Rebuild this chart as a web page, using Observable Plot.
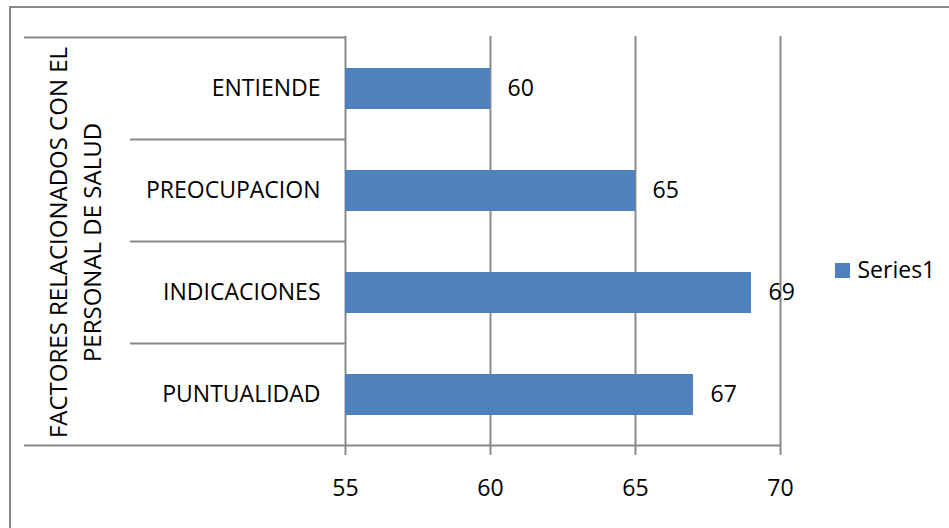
<!DOCTYPE html>
<html><head><meta charset="utf-8">
<script src="https://cdn.jsdelivr.net/npm/d3@7"></script>
<script src="https://cdn.jsdelivr.net/npm/@observablehq/plot@0.6"></script>
<style>body{margin:0;background:#fff}</style>
</head><body><div id="chart"></div>
<script>
const categories = ["ENTIENDE", "PREOCUPACION", "INDICACIONES", "PUNTUALIDAD"];
const values = [60, 65, 69, 67];
const xTicks = [55, 60, 65, 70];
const seriesName = "Series1";
const yTitle = "FACTORES RELACIONADOS CON EL\nPERSONAL DE SALUD";

const data = categories.map((c, i) => ({cat: c, value: values[i]}));
const GRID = "#898989", BAR = "#4F81BD", FONT = 23, TFONT = 24;
const PI = 0.6, PO = 0.3;

function decor(index, scales, vals, dim) {
  const g = d3.create("svg:g");
  const y = scales.y;
  const step = y(categories[1]) - y(categories[0]);
  const bounds = categories.map(c => y(c) - step * PI / 2);
  bounds.push(y(categories[categories.length - 1]) + step - step * PI / 2);
  const x0 = dim.marginLeft, x1 = dim.width - dim.marginRight;
  g.append("path").attr("d", `M10,${dim.height}V7H${dim.width}`)
    .attr("fill", "none").attr("stroke", GRID).attr("stroke-width", 2);
  bounds.forEach((b, i) => {
    const last = i === bounds.length - 1;
    const left = (i === 0 || last) ? 24 : 130;
    const right = last ? x1 : x0;
    g.append("line").attr("x1", left).attr("x2", right).attr("y1", b).attr("y2", b)
      .attr("stroke", GRID).attr("stroke-width", 2);
  });
  return g.node();
}

const chart = Plot.plot({
  width: 949, height: 528,
  marginLeft: 345, marginRight: 169, marginTop: 36, marginBottom: 82,
  style: {fontFamily: "'Open Sans', sans-serif", fontSize: FONT + "px", color: "black", background: "white", overflow: "visible"},
  x: {domain: [xTicks[0], xTicks[xTicks.length - 1]]},
  y: {domain: categories, paddingInner: PI, paddingOuter: PO},
  marks: [
    Plot.ruleX(xTicks, {stroke: GRID, strokeWidth: 2}),
    Plot.barX(data, {x1: () => xTicks[0], x2: "value", y: "cat", fill: BAR}),
    decor,
    Plot.axisX({ticks: xTicks, tickSize: 9, tickPadding: 24, fontSize: FONT, stroke: GRID, strokeWidth: 2, fill: "black", label: null}),
    Plot.axisY({tickSize: 0, tickPadding: 25, fontSize: FONT, fill: "black", label: null}),
    Plot.text(data, {x: "value", y: "cat", text: d => String(d.value), dx: 17, textAnchor: "start", fontSize: FONT, fill: "black"}),
    Plot.text([yTitle], {text: d => d, frameAnchor: "left", textAnchor: "middle", dx: -272, dy: 1, rotate: -90, fontSize: TFONT, lineHeight: 1.4, fill: "black"}),
    Plot.dot([seriesName], {frameAnchor: "right", dx: 62, dy: 29, symbol: "square", r: 8.5, fill: BAR}),
    Plot.text([seriesName], {text: d => d, frameAnchor: "right", dx: 77, dy: 29, textAnchor: "start", fontSize: FONT, fill: "black"})
  ]
});
document.getElementById("chart").append(chart);
</script>
</body></html>
